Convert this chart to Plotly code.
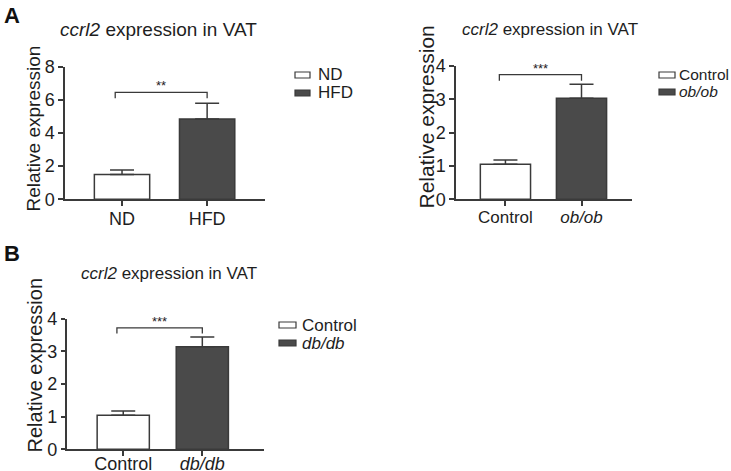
import plotly.graph_objects as go

# ---- data ----
a1_cats = ["ND", "HFD"]
a1_labels = ["ND", "HFD"]
a1_mean = [1.5, 4.84]
a1_sem = [0.27, 0.96]
a1_sig = "**"

a2_cats = ["Control", "ob/ob"]
a2_labels = ["Control", "<i>ob/ob</i>"]
a2_mean = [1.05, 3.03]
a2_sem = [0.13, 0.42]
a2_sig = "***"

b_cats = ["Control", "db/db"]
b_labels = ["Control", "<i>db/db</i>"]
b_mean = [1.04, 3.14]
b_sem = [0.13, 0.30]
b_sig = "***"

y_title = "Relative expression"
panel_title = "<i>ccrl2</i> expression in VAT"

FONT = "Liberation Sans, Arial, sans-serif"
TXT = "#1e1e1e"
LINE = "#3a3a3a"
FILLS = ["#ffffff", "#4a4a4a"]
W, H = 731, 471

fig = go.Figure()

panels = [
    dict(cats=a1_cats, labels=a1_labels, mean=a1_mean, sem=a1_sem, sig=a1_sig,
         xa="x", ya="y", width=0.65),
    dict(cats=a2_cats, labels=a2_labels, mean=a2_mean, sem=a2_sem, sig=a2_sig,
         xa="x2", ya="y2", width=0.66),
    dict(cats=b_cats, labels=b_labels, mean=b_mean, sem=b_sem, sig=b_sig,
         xa="x3", ya="y3", width=0.66),
]

for p in panels:
    for i, c in enumerate(p["cats"]):
        fig.add_trace(go.Bar(
            x=[c], y=[p["mean"][i]], name=p["labels"][i],
            width=p["width"],
            marker=dict(color=FILLS[i], line=dict(color=LINE, width=1.5)),
            error_y=dict(type="data", array=[p["sem"][i]], arrayminus=[0],
                         symmetric=False, color=LINE, thickness=1.5, width=12),
            xaxis=p["xa"], yaxis=p["ya"], showlegend=False,
        ))


def px(v):
    return v / W


def py(v):
    return 1 - v / H


# significance brackets
def bracket(p, top, drop):
    xr, yr = p["xa"], p["ya"]
    x0, x1 = -0.08, 1.0
    fig.add_shape(type="path",
                  path=f"M {x0},{top-drop} L {x0},{top} L {x1},{top} L {x1},{top-drop}",
                  xref=xr, yref=yr, line=dict(color=LINE, width=1.3))
    fig.add_annotation(x=(x0 + x1) / 2, y=top, xref=xr, yref=yr, text=p["sig"],
                       showarrow=False, yanchor="bottom", yshift=-3,
                       font=dict(family=FONT, size=13, color=TXT))


bracket(panels[0], 6.45, 0.35)
bracket(panels[1], 3.74, 0.18)
bracket(panels[2], 3.72, 0.17)

axis_common = dict(showline=True, linecolor=LINE, linewidth=1.5, showgrid=False,
                   zeroline=False, ticks="outside", tickwidth=1.5,
                   tickcolor=LINE, automargin=False)
ytick_font = dict(family=FONT, size=18, color=TXT)

fig.update_layout(
    xaxis=dict(domain=[px(65), px(265)], anchor="y", range=[-0.67, 1.68],
               tickvals=a1_cats, ticktext=a1_labels, ticklabelstandoff=-3,
               ticklen=5, tickfont=dict(family=FONT, size=18, color=TXT),
               **axis_common),
    yaxis=dict(domain=[py(199.3), py(66.7)], anchor="x", range=[0, 8], dtick=2,
               ticklen=5, tickfont=ytick_font, **axis_common),
    xaxis2=dict(domain=[px(456), px(631.7)], anchor="y2", range=[-0.65, 1.66],
                tickvals=a2_cats, ticktext=a2_labels, ticklabelstandoff=-3,
                ticklen=5, tickfont=dict(family=FONT, size=17, color=TXT),
                **axis_common),
    yaxis2=dict(domain=[py(199.3), py(66)], anchor="x2", range=[0, 4], dtick=1,
                ticklen=5, tickfont=ytick_font, **axis_common),
    xaxis3=dict(domain=[px(66.7), px(264)], anchor="y3", range=[-0.715, 1.78],
                tickvals=b_cats, ticktext=b_labels, ticklabelstandoff=-8,
                ticklen=5, tickfont=dict(family=FONT, size=18, color=TXT),
                **axis_common),
    yaxis3=dict(domain=[py(449.3), py(318.7)], anchor="x3", range=[0, 4], dtick=1,
                ticklen=4, tickfont=ytick_font, **axis_common),
)

# y-axis titles
for (cx, cy, fs) in [(33, 128.5, 19), (426, 117.5, 21), (34, 365.5, 20)]:
    fig.add_annotation(x=px(cx), y=py(cy), xref="paper", yref="paper",
                       text=y_title, textangle=-90, showarrow=False,
                       xanchor="center", yanchor="middle",
                       font=dict(family=FONT, size=fs, color=TXT))

# panel titles
for (cx, cy, fs) in [(158, 30, 19), (550, 30, 17), (169, 273, 17)]:
    fig.add_annotation(x=px(cx), y=py(cy), xref="paper", yref="paper",
                       text=panel_title, showarrow=False,
                       xanchor="center", yanchor="middle",
                       font=dict(family=FONT, size=fs, color=TXT))

# panel letters
for (lbl, lx, ly) in [("A", 2, 16), ("B", 2, 253)]:
    fig.add_annotation(x=px(lx), y=py(ly), xref="paper", yref="paper",
                       text=f"<b>{lbl}</b>", showarrow=False,
                       xanchor="left", yanchor="middle",
                       font=dict(family=FONT, size=22, color="#111"))

# legends (swatch + label), one per panel
legends = [
    (a1_labels, 295, 310, 316, [75, 93], 17),
    (a2_labels, 659, 675, 677, [75, 92], 15.5),
    (b_labels, 279, 296, 300, [325, 343], 17),
]
for (labels, sx0, sx1, tx, ys, fs) in legends:
    for i, lab in enumerate(labels):
        fig.add_shape(type="rect", xref="paper", yref="paper",
                      x0=px(sx0), x1=px(sx1), y0=py(ys[i] + 3), y1=py(ys[i] - 3),
                      fillcolor=FILLS[i], line=dict(color=LINE, width=1.2))
        fig.add_annotation(x=px(tx), y=py(ys[i]), xref="paper", yref="paper",
                           text=lab, showarrow=False, xanchor="left",
                           yanchor="middle",
                           font=dict(family=FONT, size=fs, color=TXT))

fig.update_layout(
    width=W, height=H, margin=dict(l=0, r=0, t=0, b=0, autoexpand=False),
    paper_bgcolor="white", plot_bgcolor="white", barmode="overlay",
    showlegend=False,
)

fig.write_html("out.html", config={"displayModeBar": False},
               post_script="document.body.style.margin='0';"
                           "document.body.style.overflow='hidden';")
